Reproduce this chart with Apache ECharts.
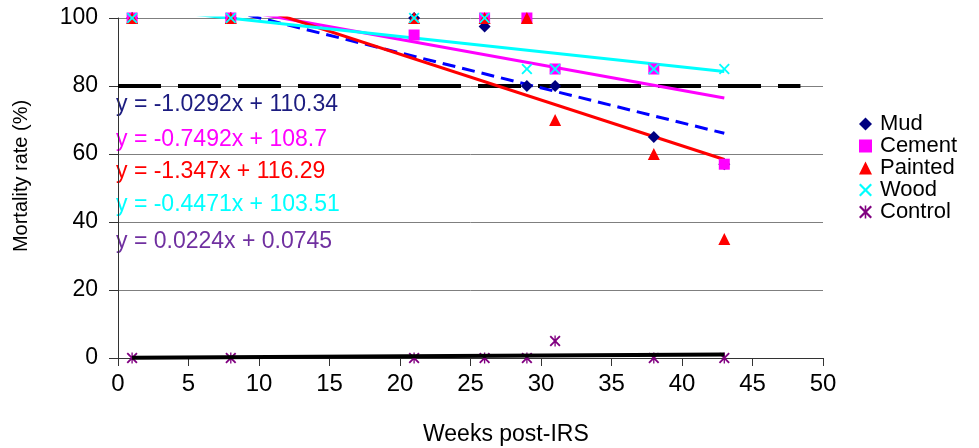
<!DOCTYPE html>
<html>
<head>
<meta charset="utf-8">
<script src="https://cdn.jsdelivr.net/npm/echarts@6/dist/echarts.min.js"></script>
<style>html,body{margin:0;padding:0;background:#fff;}#c{width:979px;height:448px;}</style>
</head>
<body>
<div id="c"></div>
<script>
// ---- data ----
const weeks   = [1, 8, 21, 26, 29, 31, 38, 43];
const mud     = [100, 100, 100, 97.5, 80, 80, 65, 57];
const cement  = [100, 100, 95, 100, 100, 85, 85, 57];
const painted = [100, 100, 100, 100, 100, 70, 60, 35];
const wood    = [100, 100, 100, 100, 85, 85, 85, 85];
const control = [0, 0, 0, 0, 0, 5, 0, 0];

// trend-line end points (x = first and last week)
const trendX       = [1, 43];
const mudTrend     = [109.31, 66.08];
const cementTrend  = [107.95, 76.48];
const paintedTrend = [114.94, 58.37];
const woodTrend    = [103.06, 84.28];
const controlTrend = [0.10, 1.04];

// 80% threshold line
const thresholdX = [0, 48.4];
const thresholdY = [80, 80];

const seriesNames = ['Mud', 'Cement', 'Painted', 'Wood', 'Control'];
const equations = [
  'y = -1.0292x + 110.34',
  'y = -0.7492x + 108.7',
  'y = -1.347x + 116.29',
  'y = -0.4471x + 103.51',
  'y = 0.0224x + 0.0745'
];
const xTicks = [0, 50, 5];
const yTicks = [0, 100, 20];

// ---- build ----
const FONT = '"Liberation Sans", Arial, sans-serif';
const pairs = (xs, ys) => xs.map((x, i) => [x, ys[i]]);
const X_PATH = 'path://M0,1.2L1.2,0L5,3.8L8.8,0L10,1.2L6.2,5L10,8.8L8.8,10L5,6.2L1.2,10L0,8.8L3.8,5Z';
const STAR_PATH = 'path://M0,1.2L1.2,0L5,3.8L8.8,0L10,1.2L6.2,5L10,8.8L8.8,10L5,6.2L1.2,10L0,8.8L3.8,5Z M4.4,0L5.6,0L5.6,10L4.4,10Z';

const markerColors = ['#000080', '#FF00FF', '#FF0000', '#00FFFF', '#800080'];
const symbols = ['diamond', 'rect', 'triangle', X_PATH, STAR_PATH];
const symbolSizes = [12, 11, 12, 11, 11];
const values = [mud, cement, painted, wood, control];
const trends = [mudTrend, cementTrend, paintedTrend, woodTrend, controlTrend];
const trendColors = ['#0000FF', '#FF00FF', '#FF0000', '#00FFFF', '#000000'];
const eqColors = ['#1c1c80', '#FF00FF', '#FF0000', '#00FFFF', '#7030A0'];
const eqY = [105, 140, 172, 205, 242];

const series = [];
series.push({
  type: 'line', name: '80%', data: pairs(thresholdX, thresholdY),
  symbol: 'none', silent: true, z: 1,
  lineStyle: { color: '#000', width: 4, type: [43, 17] }
});
values.forEach((v, i) => {
  series.push({
    type: 'line', name: seriesNames[i] + ' trend', data: pairs(trendX, trends[i]),
    symbol: 'none', silent: true, clip: true, z: i === 4 ? 6 : 2,
    lineStyle: { color: trendColors[i], width: i === 4 ? 4 : 3, type: i === 0 ? [13, 7] : 'solid' }
  });
});
values.forEach((v, i) => {
  series.push({
    type: 'scatter', name: seriesNames[i], data: pairs(weeks, v),
    symbol: symbols[i], symbolSize: symbolSizes[i], clip: false, z: 3 + (i === 4 ? 0 : 2),
    itemStyle: { color: markerColors[i], opacity: 1 }
  });
});

const graphic = equations.map((t, i) => ({
  type: 'text', left: 116, top: eqY[i] - 12,
  style: { text: t, fill: eqColors[i], font: '23px ' + FONT }
}));
graphic.push({
  type: 'text', left: 423, top: 423,
  style: { text: 'Weeks post-IRS', fill: '#000', font: '23px ' + FONT }
});
graphic.push({
  type: 'text', x: 21, y: 176, rotation: Math.PI / 2,
  style: { text: 'Mortality rate (%)', fill: '#000', font: '20px ' + FONT, align: 'center', verticalAlign: 'middle' }
});

const chart = echarts.init(document.getElementById('c'), null, { renderer: 'canvas' });
chart.setOption({
  animation: false,
  backgroundColor: '#fff',
  textStyle: { fontFamily: FONT },
  grid: { left: 118, right: 156, top: 18, bottom: 90, containLabel: false },
  legend: {
    data: seriesNames, orient: 'vertical', left: 854, top: 108,
    itemWidth: 13, itemHeight: 13, itemGap: 0,
    textStyle: { fontSize: 22, color: '#000', fontFamily: FONT, padding: [0, 0, 0, 3] }
  },
  xAxis: {
    type: 'value', min: xTicks[0], max: xTicks[1], interval: xTicks[2],
    axisLine: { show: true, onZero: false, lineStyle: { color: '#333', width: 1 } },
    axisTick: { show: true, inside: false, length: 8, lineStyle: { color: '#333' } },
    axisLabel: { fontSize: 24, color: '#000', margin: 14, fontFamily: FONT },
    splitLine: { show: false }
  },
  yAxis: {
    type: 'value', min: yTicks[0], max: yTicks[1], interval: yTicks[2],
    axisLine: { show: true, lineStyle: { color: '#333', width: 1 } },
    axisTick: { show: true, inside: false, length: 9, lineStyle: { color: '#333' } },
    axisLabel: { fontSize: 23, color: '#000', margin: 20, fontFamily: FONT },
    splitLine: { show: true, lineStyle: { color: '#7f7f7f', width: 1 } }
  },
  graphic: graphic,
  series: series
});
</script>
</body>
</html>
